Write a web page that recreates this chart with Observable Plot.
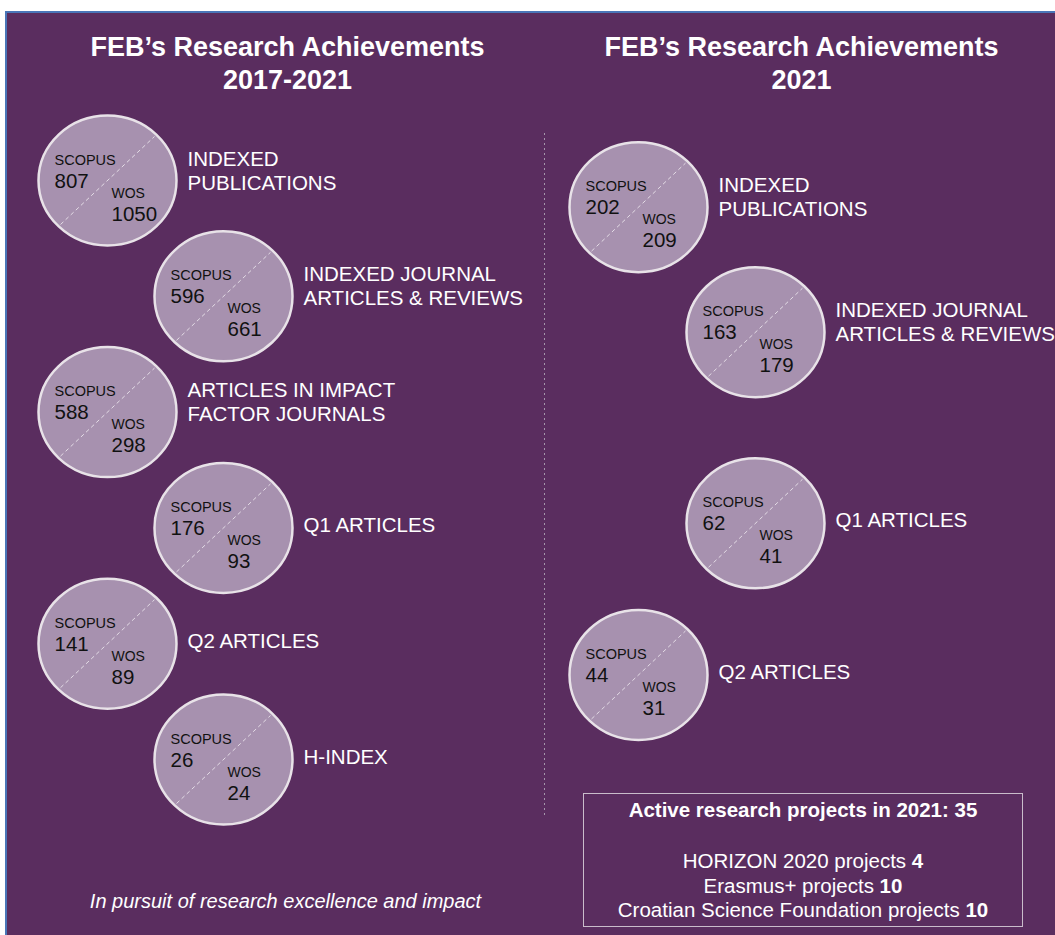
<!DOCTYPE html>
<html><head><meta charset="utf-8">
<script src="https://cdn.jsdelivr.net/npm/d3@7"></script>
<script src="https://cdn.jsdelivr.net/npm/@observablehq/plot@0.6"></script>
<style>
html,body{margin:0;padding:0;background:#fff;}
body{width:1055px;height:935px;position:relative;overflow:hidden;font-family:"Liberation Sans",Arial,sans-serif;}
#bg{position:absolute;left:5px;top:11px;width:1050px;height:924px;background:#5a2d5f;border-top:2px solid #4a76b8;border-left:2px solid #4a76b8;box-sizing:border-box;}
#chart{position:absolute;left:0;top:0;}
#projects{position:absolute;left:583px;top:793px;width:440px;height:134px;border:1px solid #c9bccb;box-sizing:border-box;color:#fff;text-align:center;font-size:20.5px;padding-top:3px;}
#projects .head{font-weight:bold;line-height:25px;}
#projects .list{margin-top:27px;line-height:24.5px;}
</style></head><body>
<div id="bg"></div><div id="chart"></div><div id="projects"></div>
<script>
// ---------- DATA ----------
const panelTitles = ["FEB’s Research Achievements\n2017-2021", "FEB’s Research Achievements\n2021"];
const metrics5y = ["INDEXED\nPUBLICATIONS", "INDEXED JOURNAL\nARTICLES & REVIEWS", "ARTICLES IN IMPACT\nFACTOR JOURNALS", "Q1 ARTICLES", "Q2 ARTICLES", "H-INDEX"];
const scopus5y = [807, 596, 588, 176, 141, 26];
const wos5y = [1050, 661, 298, 93, 89, 24];
const metrics2021 = ["INDEXED\nPUBLICATIONS", "INDEXED JOURNAL\nARTICLES & REVIEWS", "Q1 ARTICLES", "Q2 ARTICLES"];
const scopus2021 = [202, 163, 62, 44];
const wos2021 = [209, 179, 41, 31];
const sourceNames = ["SCOPUS", "WOS"];
const projectsTitle = "Active research projects in 2021:";
const projectsTotal = 35;
const projectTypes = ["HORIZON 2020 projects", "Erasmus+ projects", "Croatian Science Foundation projects"];
const projectCounts = [4, 10, 10];
const footerText = "In pursuit of research excellence and impact";

// ---------- LAYOUT ----------
const W = 1055, H = 935;
const rowY = d3.scaleLinear([0, 5], [180, 759]);
const colX = {left: [107, 223], right: [638, 755]};
const rightSlots = [0.23, 1.31, 2.96, 4.27];
const rightIndent = [0, 1, 1, 0];
const R = 65, RX = 69;

const records = [
  ...metrics5y.map((m, i) => ({label: m, scopus: scopus5y[i], wos: wos5y[i], cx: colX.left[i % 2], cy: rowY(i)})),
  ...metrics2021.map((m, i) => ({label: m, scopus: scopus2021[i], wos: wos2021[i], cx: colX.right[rightIndent[i]], cy: rowY(rightSlots[i])}))
].map(d => ({...d, lines: d.label.split("\n").length}));

const titles = panelTitles.map((t, i) => ({text: t, x: [287, 801][i], y: 88}));

// ellipse symbol (slightly wider than tall)
const ellipse = {
  draw(ctx, size) {
    const r = Math.sqrt(size / Math.PI), ry = r, rx = r * RX / R, k = 0.5522847498;
    ctx.moveTo(rx, 0);
    ctx.bezierCurveTo(rx, ry * k, rx * k, ry, 0, ry);
    ctx.bezierCurveTo(-rx * k, ry, -rx, ry * k, -rx, 0);
    ctx.bezierCurveTo(-rx, -ry * k, -rx * k, -ry, 0, -ry);
    ctx.bezierCurveTo(rx * k, -ry, rx, -ry * k, rx, 0);
    ctx.closePath();
  }
};

const font = "Liberation Sans, Arial, sans-serif";
const ink = "#111111";

const plot = Plot.plot({
  width: W, height: H, margin: 0,
  x: {domain: [0, W], range: [0, W], axis: null},
  y: {domain: [0, H], range: [0, H], axis: null},
  style: {background: "transparent", fontFamily: font},
  marks: [
    Plot.ruleX([544], {y1: 133, y2: 815, stroke: "#a596ab", strokeWidth: 1, strokeDasharray: "2,3"}),
    Plot.dot(records, {x: "cx", y: "cy", r: R, symbol: ellipse, fill: "#a791af", stroke: "#e8e2e8", strokeWidth: 2.5}),
    Plot.link(records, {x1: d => d.cx - 47, y1: d => d.cy + 44, x2: d => d.cx + 47, y2: d => d.cy - 44, stroke: "#e4dce6", strokeWidth: 1, strokeDasharray: "4,3"}),
    Plot.text(records, {x: "cx", y: "cy", text: () => sourceNames[0], dx: -53, dy: -16, textAnchor: "start", lineAnchor: "bottom", fontSize: 14.5, fill: ink}),
    Plot.text(records, {x: "cx", y: "cy", text: d => String(d.scopus), dx: -53, dy: 7, textAnchor: "start", lineAnchor: "bottom", fontSize: 20.5, fill: ink}),
    Plot.text(records, {x: "cx", y: "cy", text: () => sourceNames[1], dx: 4, dy: 17, textAnchor: "start", lineAnchor: "bottom", fontSize: 14, fill: ink}),
    Plot.text(records, {x: "cx", y: "cy", text: d => String(d.wos), dx: 4, dy: 40, textAnchor: "start", lineAnchor: "bottom", fontSize: 20.5, fill: ink}),
    Plot.text(records, {x: d => d.cx + RX + 11, y: d => d.cy + (d.lines === 1 ? 4 : 9), text: "label", textAnchor: "start", lineAnchor: "bottom", lineHeight: 1.17, fontSize: 20.5, fill: "#ffffff"}),
    Plot.text(titles, {x: "x", y: "y", text: "text", textAnchor: "middle", lineAnchor: "bottom", lineHeight: 1.22, fontSize: 27, fontWeight: "bold", fill: "#ffffff"}),
    Plot.text([footerText], {x: 285, y: 907, text: d => d, textAnchor: "middle", lineAnchor: "bottom", fontSize: 20, fontStyle: "italic", fill: "#ffffff"})
  ]
});
document.getElementById("chart").appendChild(plot);

const box = document.getElementById("projects");
const head = document.createElement("div");
head.className = "head";
head.textContent = `${projectsTitle} ${projectsTotal}`;
box.appendChild(head);
const list = document.createElement("div");
list.className = "list";
projectTypes.forEach((t, i) => {
  const line = document.createElement("div");
  line.append(`${t} `);
  const b = document.createElement("b");
  b.textContent = projectCounts[i];
  line.appendChild(b);
  list.appendChild(line);
});
box.appendChild(list);
</script>
</body></html>
